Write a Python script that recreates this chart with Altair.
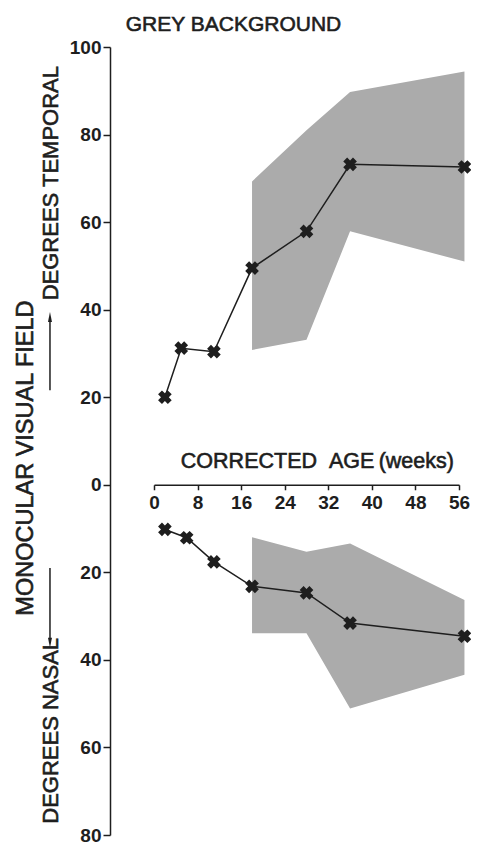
import altair as alt
import pandas as pd

# ---- data ----
temporal_weeks = [2, 5, 11, 18, 28, 36, 57]
temporal_deg = [20.0, 31.2, 30.4, 49.5, 57.9, 73.2, 72.6]

nasal_weeks = [2, 6, 11, 18, 28, 36, 57]
nasal_deg = [-10.2, -12.1, -17.6, -23.2, -24.7, -31.6, -34.6]

band_weeks = [18, 28, 36, 57]
temporal_band_hi = [69.3, 81.0, 89.7, 94.4]
temporal_band_lo = [30.8, 33.1, 57.9, 51.0]
nasal_band_hi = [-12.0, -15.3, -13.4, -26.3]
nasal_band_lo = [-33.9, -33.9, -51.1, -43.4]

x_ticks = [0, 8, 16, 24, 32, 40, 48, 56]
y_ticks = [-80, -60, -40, -20, 0, 20, 40, 60, 80, 100]

FONT = "Liberation Sans"
INK = "#1e1e1e"
GREY = "#ababab"

W, H = 305, 788
Y0, Y1 = -80, 100
zero_from_bottom = H * (0 - Y0) / (Y1 - Y0)

xs = alt.Scale(domain=[0, 56], nice=False, zero=False)
ys = alt.Scale(domain=[Y0, Y1], nice=False, zero=False)

pts = pd.DataFrame({
    "week": temporal_weeks + nasal_weeks,
    "deg": temporal_deg + nasal_deg,
    "side": ["temporal"] * len(temporal_weeks) + ["nasal"] * len(nasal_weeks),
})
bands = pd.DataFrame({
    "week": band_weeks + band_weeks,
    "hi": temporal_band_hi + nasal_band_hi,
    "lo": temporal_band_lo + nasal_band_lo,
    "side": ["temporal"] * 4 + ["nasal"] * 4,
})

band = alt.Chart(bands).mark_area(color=GREY, opacity=1, interpolate="linear").encode(
    x=alt.X("week:Q", scale=xs,
            axis=alt.Axis(values=x_ticks, orient="bottom", offset=-zero_from_bottom,
                          title=None, grid=False, tickSize=5, labelPadding=4,
                          labelFlush=False, labelFontSize=19, labelFont=FONT,
                          labelFontWeight="bold",
                          labelColor=INK, domainColor=INK, tickColor=INK,
                          domainWidth=1.5, tickWidth=1.5)),
    y=alt.Y("lo:Q", scale=ys,
            axis=alt.Axis(values=y_ticks, orient="left", offset=44, title=None, grid=False,
                          tickSize=7, labelPadding=2, labelFontSize=19, labelFont=FONT,
                          labelFontWeight="bold", labelFlush=False,
                          labelColor=INK, domainColor=INK, tickColor=INK,
                          domainWidth=1.5, tickWidth=1.5,
                          labelExpr="format(abs(datum.value), 'd')")),
    y2="hi:Q",
    detail="side:N",
)

line = alt.Chart(pts).mark_line(color=INK, strokeWidth=1.5).encode(
    x=alt.X("week:Q", scale=xs),
    y=alt.Y("deg:Q", scale=ys),
    detail="side:N",
)

marks = alt.Chart(pts).mark_point(shape="cross", angle=45, filled=True, size=190,
                                  color=INK, opacity=1).encode(
    x=alt.X("week:Q", scale=xs),
    y=alt.Y("deg:Q", scale=ys),
)

def label(text, x, y, size, angle=0, baseline="middle"):
    return alt.Chart(pd.DataFrame({"t": [text]})).mark_text(
        font=FONT, fontSize=size, color=INK, stroke=INK, strokeWidth=0.6, angle=angle,
        align="center", baseline=baseline).encode(
        x=alt.XDatum(x, scale=xs), y=alt.YDatum(y, scale=ys), text="t:N")

title = label("GREY BACKGROUND", 14.6, 105.0, 21)
xtitle = label("CORRECTED\u00a0\u00a0AGE\u2009(weeks)", 30.0, 5.3, 21.5)
# rotated labels: alphabetic baseline, glyphs extend to the left of the anchor
ytitle = label("MONOCULAR VISUAL FIELD", -22.3, 6.1, 23.5, angle=270, baseline="alphabetic")
temp_lbl = label("DEGREES TEMPORAL", -17.7, 68.9, 22, angle=270, baseline="alphabetic")
nasal_lbl = label("DEGREES NASAL", -17.7, -56.2, 22, angle=270, baseline="alphabetic")

ARROW_X = -19.1
arrow_df = pd.DataFrame({"tail": [21.6, -19.0], "tip": [38.3, -36.1]})
arrow_shafts = alt.Chart(arrow_df).mark_rule(color=INK, strokeWidth=1.5).encode(
    x=alt.XDatum(ARROW_X, scale=xs),
    y=alt.Y("tail:Q", scale=ys),
    y2="tip:Q",
)
head_up = alt.Chart(arrow_df.iloc[[0]]).mark_point(
    shape="M0,-1L0.4,1L-0.4,1Z", filled=True, size=100, color=INK, opacity=1).encode(
    x=alt.XDatum(ARROW_X, scale=xs), y=alt.Y("tip:Q", scale=ys))
head_dn = alt.Chart(arrow_df.iloc[[1]]).mark_point(
    shape="M0,1L0.4,-1L-0.4,-1Z", filled=True, size=100, color=INK, opacity=1).encode(
    x=alt.XDatum(ARROW_X, scale=xs), y=alt.Y("tip:Q", scale=ys))

chart = alt.layer(
    band, line, marks, title, xtitle, ytitle, temp_lbl, nasal_lbl,
    arrow_shafts, head_up, head_dn,
).properties(
    width=W, height=H,
    autosize=alt.AutoSizeParams(type="none"),
    padding={"left": 146, "top": 39, "right": 12, "bottom": 12},
).configure(background="white").configure_view(stroke=None)

chart.save("out.html", embed_options={"renderer": "svg", "actions": False})
